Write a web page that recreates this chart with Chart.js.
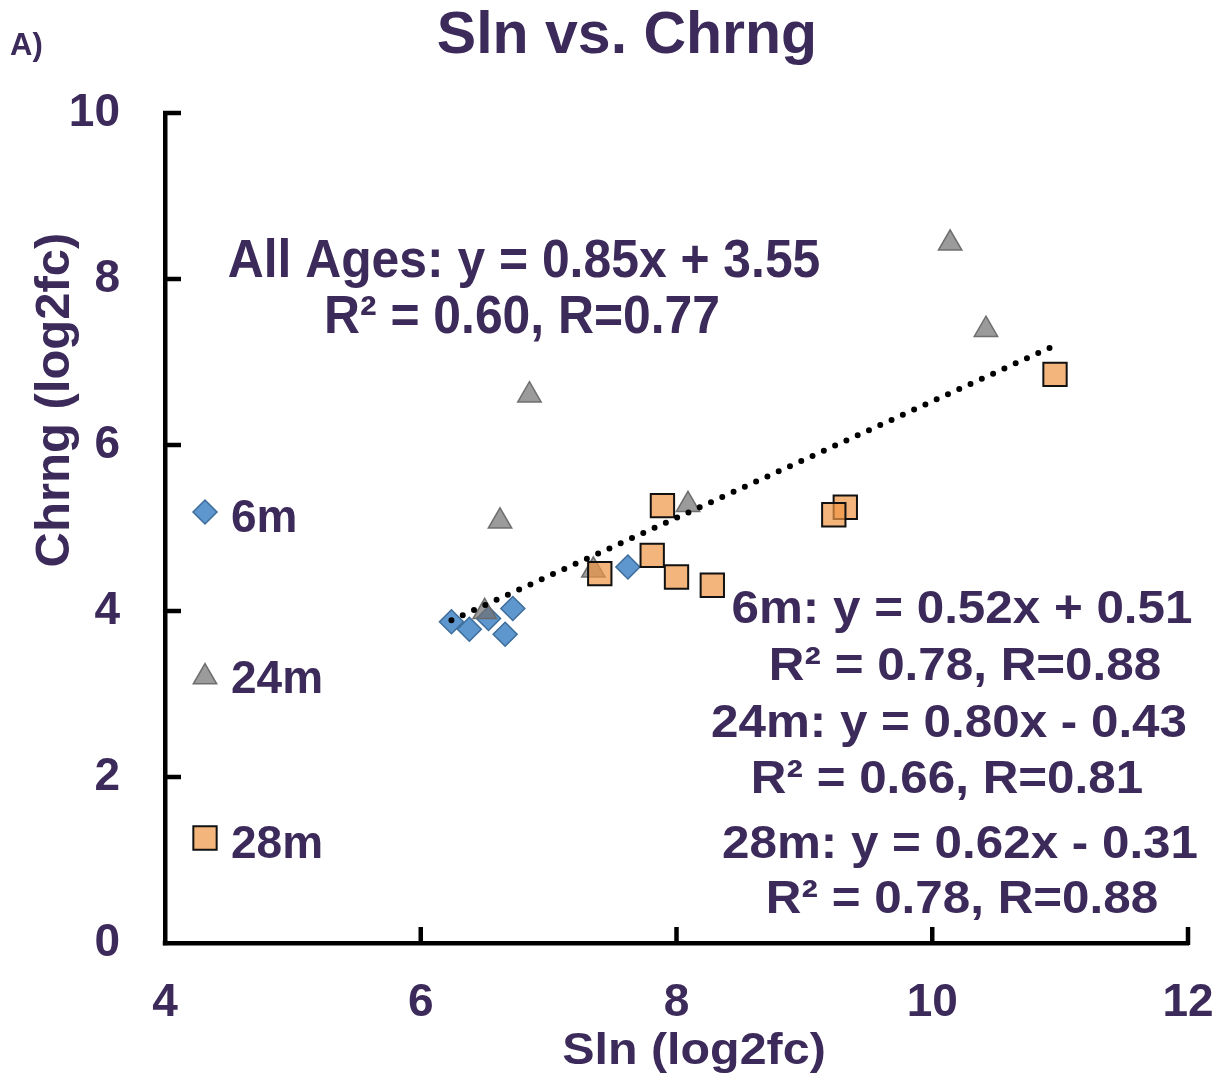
<!DOCTYPE html>
<html>
<head>
<meta charset="utf-8">
<title>Sln vs. Chrng</title>
<script src="https://cdn.jsdelivr.net/npm/chart.js@4"></script>
<style>
  html, body { margin: 0; padding: 0; background: #ffffff; }
  #wrap { width: 1229px; height: 1083px; }
</style>
</head>
<body>
<div id="wrap"><canvas id="c" width="1229" height="1083"></canvas></div>
<script>
// Sln (x) and Chrng (y) log2 fold changes per age group
const sixMonthSln = [6.24, 6.38, 6.53, 6.72, 6.66, 7.62];
const sixMonthChrng = [3.87, 3.78, 3.91, 4.03, 3.72, 4.53];
const twentyFourMonthSln = [6.62, 6.50, 7.35, 8.09, 10.14, 10.42, 6.85];
const twentyFourMonthChrng = [5.08, 3.99, 4.49, 5.28, 8.43, 7.39, 6.60];
const twentyEightMonthSln = [7.89, 7.40, 7.81, 8.00, 8.28, 9.32, 9.23, 10.96];
const twentyEightMonthChrng = [5.27, 4.45, 4.67, 4.41, 4.31, 5.25, 5.16, 6.85];

const ageLabels = ['6m', '24m', '28m'];
const xTicks = [4, 6, 8, 10, 12];
const yTicks = [0, 2, 4, 6, 8, 10];

const allAgesFit = ['All Ages: y = 0.85x + 3.55', 'R\u00B2 = 0.60, R=0.77'];
const groupFits = [
  '6m: y = 0.52x + 0.51', 'R\u00B2 = 0.78, R=0.88',
  '24m: y = 0.80x - 0.43', 'R\u00B2 = 0.66, R=0.81',
  '28m: y = 0.62x - 0.31', 'R\u00B2 = 0.78, R=0.88'
];

const INK = '#3b2a5a';
const FONT = '"Liberation Sans", Arial, sans-serif';

function toPoints(xs, ys) { return xs.map((x, i) => ({ x: x, y: ys[i] })); }

// least-squares trend line across every age group, spanning the data's x range
const allX = [].concat(sixMonthSln, twentyFourMonthSln, twentyEightMonthSln);
const allY = [].concat(sixMonthChrng, twentyFourMonthChrng, twentyEightMonthChrng);
const n = allX.length;
const mx = allX.reduce((a, b) => a + b, 0) / n;
const my = allY.reduce((a, b) => a + b, 0) / n;
let sxy = 0, sxx = 0;
for (let i = 0; i < n; i++) { sxy += (allX[i] - mx) * (allY[i] - my); sxx += (allX[i] - mx) ** 2; }
const slope = sxy / sxx;
const intercept = my - slope * mx;
const xLo = Math.min(...allX), xHi = Math.max(...allX);
const trendPoints = [{ x: xLo, y: intercept + slope * xLo }, { x: xHi, y: intercept + slope * xHi }];

const markerStyles = [
  { pointStyle: 'rectRot', radius: 12, bg: 'rgba(40,115,190,0.75)', border: '#3d6d9b', bw: 1.5 },
  { pointStyle: 'triangle', radius: 13.5, bg: 'rgba(112,112,112,0.7)', border: 'rgba(105,105,105,0.95)', bw: 1.5 },
  { pointStyle: 'rect', radius: 16.5, bg: 'rgba(238,149,68,0.7)', border: '#111111', bw: 2 }
];

function drawText(ctx, s, x, y, size, opt) {
  opt = opt || {};
  ctx.save();
  ctx.font = 'bold ' + size + 'px ' + FONT;
  ctx.fillStyle = INK;
  ctx.textBaseline = 'alphabetic';
  ctx.textAlign = opt.align || 'center';
  ctx.translate(x, y);
  if (opt.rot) ctx.rotate(opt.rot);
  ctx.scale(opt.sx || 1, 1);
  ctx.fillText(s, 0, 0);
  ctx.restore();
}

const decorations = {
  id: 'decorations',
  afterDraw(chart) {
    const ctx = chart.ctx;
    const xs = chart.scales.x, ys = chart.scales.y;
    const area = chart.chartArea;

    // inward tick marks and axis corner
    ctx.save();
    ctx.strokeStyle = '#000';
    ctx.lineWidth = 4.5;
    ctx.lineCap = 'butt';
    yTicks.forEach(v => {
      if (v === 0) return;
      const py = ys.getPixelForValue(v);
      ctx.beginPath(); ctx.moveTo(area.left - 2, py); ctx.lineTo(area.left + 16, py); ctx.stroke();
    });
    xTicks.forEach(v => {
      if (v === 4) return;
      const px = xs.getPixelForValue(v);
      ctx.beginPath(); ctx.moveTo(px, area.bottom + 2); ctx.lineTo(px, area.bottom - 16); ctx.stroke();
    });
    ctx.fillStyle = '#000';
    ctx.fillRect(area.left - 2.25, area.bottom - 2.25, 4.5, 4.5);
    ctx.restore();

    // titles
    drawText(ctx, 'Sln vs. Chrng', 627, 53, 59);
    drawText(ctx, 'A)', 10, 55, 31, { align: 'left' });
    drawText(ctx, 'Sln (log2fc)', 694, 1064, 44, { sx: 1.1 });
    drawText(ctx, 'Chrng (log2fc)', 69, 400, 49, { rot: -Math.PI / 2 });

    // legend
    const legendY = [512, 677, 838];
    const labelY = [532, 693, 858];
    markerStyles.forEach((m, i) => {
      ctx.save();
      ctx.fillStyle = m.bg;
      ctx.strokeStyle = m.border;
      ctx.lineWidth = m.bw;
      Chart.helpers.drawPoint(ctx, { pointStyle: m.pointStyle, radius: m.radius, rotation: 0, borderWidth: m.bw }, 205, legendY[i]);
      ctx.restore();
      drawText(ctx, ageLabels[i], 231, labelY[i], 46, { align: 'left' });
    });

    // regression annotations
    drawText(ctx, allAgesFit[0], 524, 277, 53, { sx: 0.94 });
    drawText(ctx, allAgesFit[1], 522, 333, 53, { sx: 0.94 });
    const gx = [962, 965, 949, 947, 960, 962];
    const gy = [623, 680, 737, 793, 858, 913];
    groupFits.forEach((s, i) => drawText(ctx, s, gx[i], gy[i], 47, { sx: 1.05 }));
  }
};

const tickFont = { family: FONT, size: 46, weight: 'bold' };

new Chart(document.getElementById('c'), {
  type: 'scatter',
  data: {
    datasets: [
      {
        type: 'line',
        label: 'All Ages',
        data: trendPoints,
        borderColor: '#000',
        borderWidth: 6,
        borderDash: [0, 12.4],
        borderCapStyle: 'round',
        pointRadius: 0,
        fill: false
      },
      {
        label: ageLabels[2],
        data: toPoints(twentyEightMonthSln, twentyEightMonthChrng),
        pointStyle: markerStyles[2].pointStyle,
        pointRadius: markerStyles[2].radius,
        backgroundColor: markerStyles[2].bg,
        borderColor: markerStyles[2].border,
        borderWidth: markerStyles[2].bw
      },
      {
        label: ageLabels[1],
        data: toPoints(twentyFourMonthSln, twentyFourMonthChrng),
        pointStyle: markerStyles[1].pointStyle,
        pointRadius: markerStyles[1].radius,
        backgroundColor: markerStyles[1].bg,
        borderColor: markerStyles[1].border,
        borderWidth: markerStyles[1].bw
      },
      {
        label: ageLabels[0],
        data: toPoints(sixMonthSln, sixMonthChrng),
        pointStyle: markerStyles[0].pointStyle,
        pointRadius: markerStyles[0].radius,
        backgroundColor: markerStyles[0].bg,
        borderColor: markerStyles[0].border,
        borderWidth: markerStyles[0].bw
      }
    ]
  },
  options: {
    responsive: false,
    animation: false,
    devicePixelRatio: 1,
    layout: { padding: { top: 113, right: 41, left: 0, bottom: 0 } },
    plugins: { legend: { display: false }, tooltip: { enabled: false }, title: { display: false } },
    scales: {
      x: {
        type: 'linear',
        min: 4, max: 12,
        afterBuildTicks: s => { s.ticks = xTicks.map(v => ({ value: v })); },
        afterFit: s => { s.height = 140; s.paddingLeft = 0; s.paddingRight = 0; },
        grid: { display: false, drawTicks: false },
        border: { display: true, color: '#000', width: 4.5 },
        ticks: { font: tickFont, color: INK, padding: 33, maxRotation: 0 }
      },
      y: {
        type: 'linear',
        min: 0, max: 10,
        afterBuildTicks: s => { s.ticks = yTicks.map(v => ({ value: v })); },
        afterFit: s => { s.width = 165; s.paddingTop = 0; s.paddingBottom = 0; },
        grid: { display: false, drawTicks: false },
        border: { display: true, color: '#000', width: 4.5 },
        ticks: { font: tickFont, color: INK, padding: 45 }
      }
    }
  },
  plugins: [decorations]
});
</script>
</body>
</html>
